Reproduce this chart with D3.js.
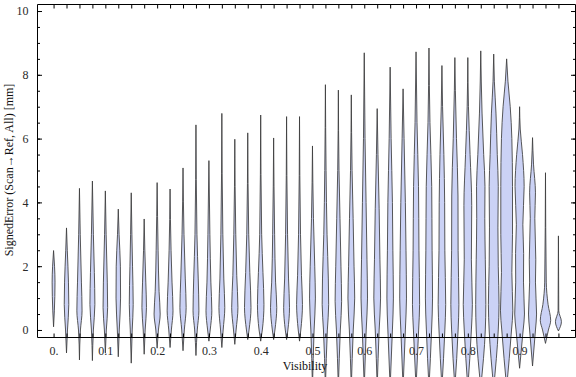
<!DOCTYPE html>
<html>
<head>
<meta charset="utf-8">
<script src="https://cdn.jsdelivr.net/npm/d3@7"></script>
<style>
  body { margin: 0; background: #fff; }
  svg { display: block; font-family: 'Liberation Serif', 'Times New Roman', serif; }
</style>
</head>
<body>
<div id="chart"></div>
<script>
// visibility bins (one violin per bin)
const visibility = [0, 0.025, 0.05, 0.075, 0.1, 0.125, 0.15, 0.175, 0.2, 0.225,
  0.25, 0.275, 0.3, 0.325, 0.35, 0.375, 0.4, 0.425, 0.45, 0.475,
  0.5, 0.525, 0.55, 0.575, 0.6, 0.625, 0.65, 0.675, 0.7, 0.725,
  0.75, 0.775, 0.8, 0.825, 0.85, 0.875, 0.9, 0.925, 0.95, 0.975]

// largest / smallest signed error in each bin [mm]
const maxError = [2.49, 3.2, 4.44, 4.67, 4.36, 3.79, 4.3, 3.48, 4.62, 4.42,
  5.08, 6.43, 5.31, 6.79, 5.98, 6.18, 6.74, 6.02, 6.69, 6.69,
  5.77, 7.69, 7.52, 7.37, 8.69, 6.94, 8.24, 7.56, 8.72, 8.84,
  8.29, 8.54, 8.54, 8.75, 8.65, 8.5, 7.0, 6.03, 4.93, 2.95]
const minError = [0.1, -0.72, -0.94, -0.96, -0.72, -0.84, -1.04, -0.76, -0.57, -0.55,
  -0.65, -0.8, -0.35, -0.55, -0.45, -0.3, -0.35, -0.3, -0.3, -0.35,
  -1.8, -1.8, -1.8, -1.8, -1.8, -1.8, -1.8, -1.8, -1.8, -1.8,
  -1.8, -1.8, -1.8, -1.8, -1.8, -1.8, -1.2, -1.13, -0.42, -0.03]

// density: [error, relative density]
const densityKnots = [
  [[0.6, 0.12], [1.5, 0.22], [2.0, 0.15]],
  [[0, 0.15], [0.8, 0.35], [1.5, 0.3], [2.5, 0.12]],
  [[0, 0.15], [0.6, 0.4], [1.5, 0.3], [3, 0.12]],
  [[0, 0.15], [0.8, 0.38], [1.8, 0.3], [3, 0.15]],
  [[0, 0.15], [0.7, 0.35], [1.5, 0.3], [3, 0.12]],
  [[0, 0.15], [1.0, 0.35], [2.0, 0.32], [3, 0.12]],
  [[0, 0.15], [0.8, 0.3], [2, 0.2], [3, 0.1]],
  [[0, 0.15], [0.7, 0.35], [1.5, 0.25], [2.5, 0.1]],
  [[0, 0.2], [0.5, 0.47], [1.2, 0.3], [2.5, 0.15]],
  [[0, 0.2], [0.6, 0.45], [1.5, 0.3], [2.5, 0.15]],
  [[0, 0.2], [0.7, 0.48], [1.6, 0.35], [3, 0.15]],
  [[0, 0.2], [0.6, 0.45], [1.6, 0.35], [3, 0.15]],
  [[0, 0.2], [0.6, 0.45], [1.5, 0.3], [3, 0.15]],
  [[0, 0.2], [0.7, 0.45], [1.6, 0.3], [3, 0.15]],
  [[0, 0.2], [0.7, 0.48], [1.7, 0.3], [3, 0.15]],
  [[0, 0.2], [0.7, 0.5], [1.8, 0.32], [3, 0.15]],
  [[0, 0.25], [0.8, 0.5], [1.8, 0.35], [3, 0.15]],
  [[0, 0.2], [0.7, 0.48], [1.5, 0.3], [3, 0.15]],
  [[0, 0.2], [0.7, 0.45], [1.6, 0.3], [3, 0.15]],
  [[0, 0.2], [0.8, 0.45], [1.7, 0.3], [3, 0.15]],
  [[0, 0.25], [1.0, 0.45], [2.0, 0.35], [3.5, 0.15]],
  [[0, 0.3], [0.8, 0.5], [1.6, 0.45], [3, 0.25], [5, 0.1]],
  [[0, 0.3], [0.9, 0.5], [2, 0.4], [3.5, 0.25], [5, 0.1]],
  [[0, 0.3], [1, 0.52], [2, 0.42], [3.5, 0.28], [5, 0.12]],
  [[0, 0.3], [1, 0.5], [2.2, 0.42], [4, 0.28], [6, 0.12]],
  [[0, 0.3], [1, 0.52], [2.2, 0.42], [3.8, 0.3], [5.5, 0.12]],
  [[0, 0.35], [1, 0.5], [2.5, 0.42], [4, 0.35], [6, 0.15]],
  [[0, 0.35], [1, 0.52], [2.5, 0.45], [4, 0.35], [6, 0.15]],
  [[0, 0.4], [0.8, 0.55], [2.5, 0.45], [4.5, 0.38], [6.5, 0.15]],
  [[0, 0.4], [1, 0.55], [2.5, 0.48], [4.5, 0.42], [6.5, 0.15]],
  [[0, 0.45], [0.8, 0.58], [2.5, 0.45], [4, 0.42], [5.5, 0.3], [7, 0.1]],
  [[0, 0.5], [0.8, 0.62], [2.5, 0.5], [4.2, 0.48], [6, 0.25], [7.5, 0.08]],
  [[0, 0.55], [0.8, 0.7], [2.2, 0.55], [3.9, 0.6], [5.5, 0.35], [7, 0.1]],
  [[0, 0.7], [0.8, 0.78], [2.2, 0.7], [3.5, 0.62], [4.5, 0.65], [5.5, 0.45], [6.8, 0.2]],
  [[0, 0.7], [0.8, 0.82], [2, 0.7], [3.2, 0.65], [4.5, 0.7], [5.5, 0.55], [6.8, 0.35], [7.8, 0.1]],
  [[0, 0.75], [0.6, 0.95], [1.8, 0.8], [3, 0.9], [4.5, 0.9], [6, 0.8], [7, 0.55], [7.8, 0.2]],
  [[0, 0.55], [0.5, 0.75], [1.5, 0.6], [2.4, 0.62], [3.3, 0.5], [4.5, 0.7], [5.5, 0.45], [6.3, 0.1]],
  [[0, 0.45], [0.5, 0.62], [1.5, 0.45], [2.2, 0.5], [3.5, 0.35], [4.3, 0.45], [5.2, 0.15]],
  [[0, 0.45], [0.3, 0.8], [0.8, 0.4], [1.5, 0.12]],
  [[0.26, 0.46], [0.6, 0.05]]
]

// tick labels
const xTickLabels = ['0.', '0.1', '0.2', '0.3', '0.4', '0.5', '0.6', '0.7', '0.8', '0.9']
const yTickValues = [0, 2, 4, 6, 8, 10]
const yMinorValues = [0, 0.5, 1, 1.5, 2, 2.5, 3, 3.5, 4, 4.5, 5, 5.5, 6, 6.5, 7, 7.5, 8, 8.5, 9, 9.5, 10]

let width = 576
let height = 377
let frame = { left: 37, right: 575, top: 4, bottom: 337 }

let svg = d3.select('#chart').append('svg').attr('width', width).attr('height', height)

// scales
let xlinear = d3.scaleLinear().domain([-0.032, 1.007]).range([frame.left, frame.right])
let ylinear = d3.scaleLinear().domain([-0.22, 10.22]).range([frame.bottom, frame.top])
let wlinear = d3.scaleLinear().domain([0, 1]).range([0, 6.5])

// violins
let violins = svg.append('g').attr('class', 'violins')
visibility.forEach((v, i) => {
  let cx = xlinear(v)
  let pts = [[minError[i], 0]].concat(densityKnots[i]).concat([[maxError[i], 0]])
  let area = d3.area()
    .y(d => ylinear(d[0]))
    .x0(d => cx - wlinear(d[1]))
    .x1(d => cx + wlinear(d[1]))
    .curve(d3.curveMonotoneY)
  violins.append('path')
    .attr('d', area(pts))
    .attr('fill', '#cbd2f5')
    .attr('stroke', '#3c3c3c')
    .attr('stroke-width', 1)
    .attr('stroke-opacity', 0.85)
})

// frame
let axes = svg.append('g').attr('class', 'frame')
axes.append('path')
  .attr('d', 'M' + (frame.left + 0.5) + ',' + (frame.bottom + 0.5) + 'V' + (frame.top + 0.5) + 'H' + (frame.right + 0.5) + 'V' + (frame.bottom + 0.5) + 'H' + (frame.left + 0.5))
  .attr('fill', 'none').attr('stroke', '#000')

// left axis ticks
let yMinor = d3.axisLeft(ylinear).tickValues(yMinorValues).tickSize(-2.5).tickFormat('')
axes.append('g').attr('transform', 'translate(' + (frame.left + 0.5) + ',0)').call(yMinor)
let yAxis = d3.axisLeft(ylinear).tickValues(yTickValues).tickSize(-4.5).tickPadding(9).tickFormat(d => d)
axes.append('g').attr('class', 'yAxis').attr('transform', 'translate(' + (frame.left + 0.5) + ',0)').call(yAxis)

// right side ticks
let yRightMinor = d3.axisRight(ylinear).tickValues(yMinorValues).tickSize(-2.5).tickFormat('')
axes.append('g').attr('transform', 'translate(' + (frame.right + 0.5) + ',0)').call(yRightMinor)
let yRight = d3.axisRight(ylinear).tickValues(yTickValues).tickSize(-4.5).tickFormat('')
axes.append('g').attr('transform', 'translate(' + (frame.right + 0.5) + ',0)').call(yRight)

// bottom and top ticks, one per bin
let xAxis = d3.axisBottom(xlinear).tickValues(visibility).tickSize(-4).tickPadding(9)
  .tickFormat((d, i) => i % 4 === 0 ? xTickLabels[i / 4] : '')
axes.append('g').attr('class', 'xAxis').attr('transform', 'translate(0,' + (frame.bottom + 0.5) + ')').call(xAxis)
let xTop = d3.axisTop(xlinear).tickValues(visibility).tickSize(-4).tickFormat('')
axes.append('g').attr('transform', 'translate(0,' + (frame.top + 0.5) + ')').call(xTop)

axes.selectAll('.domain').remove()
axes.selectAll('.tick line').attr('stroke', '#000')
axes.selectAll('.tick text')
  .attr('fill', '#2a2a2a')
  .style('font-family', "'Liberation Serif', serif")
  .style('font-size', '12px')

// axis titles
svg.append('text').text('Visibility')
  .attr('x', 305).attr('y', 370)
  .attr('text-anchor', 'middle').attr('font-size', 12).attr('fill', '#111')
svg.append('text').text('SignedError (Scan\u2192Ref, All) [mm]')
  .attr('transform', 'translate(13,170) rotate(-90)')
  .attr('text-anchor', 'middle').attr('font-size', 12).attr('fill', '#111')
</script>
</body>
</html>
